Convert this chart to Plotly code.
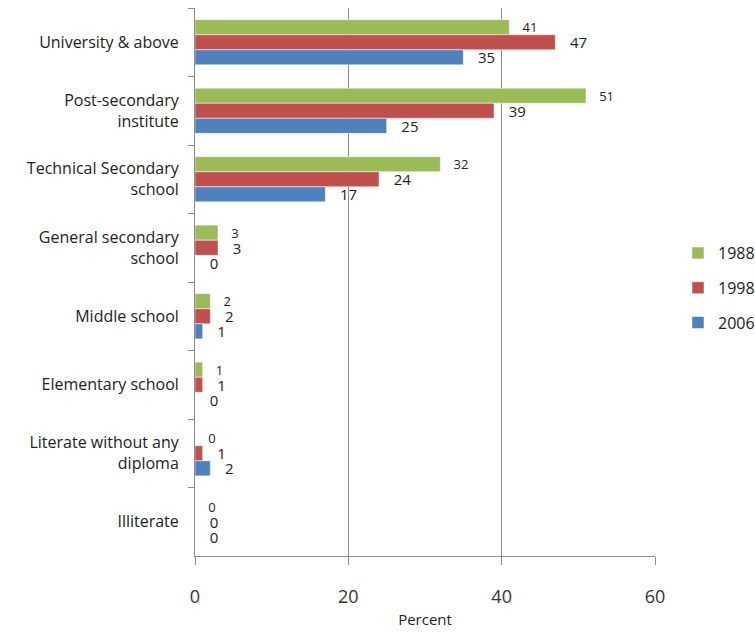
import plotly.graph_objects as go

categories = ["University & above", "Post-secondary<br>institute", "Technical Secondary<br>school",
              "General secondary<br>school", "Middle school", "Elementary school",
              "Literate without any<br>diploma", "Illiterate"]
v1988 = [41, 51, 32, 3, 2, 1, 0, 0]
v1998 = [47, 39, 24, 3, 2, 1, 1, 0]
v2006 = [35, 25, 17, 0, 1, 0, 2, 0]
series = [("1988", v1988, "#9BBB59", 13), ("1998", v1998, "#C0504D", 15), ("2006", v2006, "#4F81BD", 15)]

FONT = "Open Sans"
fig = go.Figure()
for name, vals, col, fs in series:
    fig.add_trace(go.Bar(
        y=categories, x=vals, name=name, orientation="h", legendgroup=name,
        marker=dict(color=col, line=dict(color="white", width=0.5)),
        text=[str(v) for v in vals], texttemplate="   %{text}",
        textposition="outside", cliponaxis=False, constraintext="none",
        textfont=dict(family=FONT, size=fs, color="#222222"),
    ))

fig.update_layout(
    width=755, height=634, barmode="group", bargap=0.34, bargroupgap=0,
    margin=dict(l=195, r=100, t=8, b=78, autoexpand=False),
    paper_bgcolor="white", plot_bgcolor="white",
    font=dict(family=FONT, color="#222"),
    showlegend=True,
    legend=dict(x=1.05, y=0.489, xanchor="left", yanchor="middle",
                font=dict(family=FONT, size=16, color="#222"),
                tracegroupgap=11, itemwidth=30),
    xaxis=dict(range=[0, 60], dtick=20, showgrid=True, gridcolor="#8c8c8c", gridwidth=1,
               showline=True, linecolor="#8c8c8c", ticks="outside", ticklen=8, tickcolor="#8c8c8c",
               tickfont=dict(family=FONT, size=18, color="#333"), zeroline=False,
               ticklabelstandoff=16,
               title=dict(text="Percent", font=dict(family=FONT, size=15, color="#222"), standoff=7)),
    yaxis=dict(autorange="reversed", showline=True, linecolor="#8c8c8c", ticks="outside",
               tickson="boundaries", ticklen=6, tickcolor="#8c8c8c", showgrid=False,
               ticklabelstandoff=12,
               tickfont=dict(family=FONT, size=16, color="#222")),
)
fig.write_html("out.html")
